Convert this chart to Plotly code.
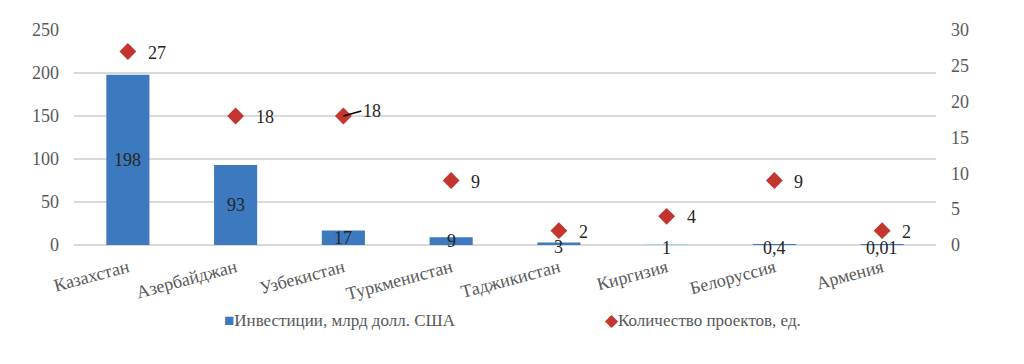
import plotly.graph_objects as go

countries = ["Казахстан", "Азербайджан", "Узбекистан", "Туркменистан",
             "Таджикистан", "Киргизия", "Белоруссия", "Армения"]
investments = [198, 93, 17, 9, 3, 1, 0.4, 0.01]
projects = [27, 18, 18, 9, 2, 4, 9, 2]
bar_colors = ["#3C79BE"] * 5 + ["#A9D3EA", "#3C79BE", "#3C79BE"]

inv_name = "Инвестиции, млрд долл. США"
proj_name = "Количество проектов, ед."

FONT = "Times New Roman"
GRAY = "#595959"
TXT = "#262626"

fig = go.Figure()
fig.add_trace(go.Bar(x=countries, y=investments, name=inv_name,
                     marker=dict(color=bar_colors, line=dict(width=0)),
                     width=0.4, yaxis="y", showlegend=False))
fig.add_trace(go.Scatter(x=countries, y=projects, name=proj_name, mode="markers",
                         marker=dict(symbol="diamond", size=13, color="#C3352F"),
                         yaxis="y2", showlegend=False))

ann = []
for c, v in zip(countries, investments):
    ann.append(dict(x=c, y=v / 2, xref="x", yref="y", text=str(v).replace(".", ","),
                    showarrow=False, font=dict(family=FONT, size=18, color=TXT),
                    yshift=-3 if v < 5 else 0))
for i, (c, p) in enumerate(zip(countries, projects)):
    if c == "Узбекистан":
        ann.append(dict(x=c, y=p, xref="x", yref="y2", text=str(p), showarrow=True,
                        ax=18, ay=-5, xanchor="left", arrowhead=0, arrowwidth=1.5,
                        arrowcolor="#000000", standoff=0,
                        font=dict(family=FONT, size=18, color=TXT)))
    else:
        ann.append(dict(x=c, y=p, xref="x", yref="y2", text=str(p), showarrow=False,
                        xanchor="left", xshift=18, yshift=-1,
                        font=dict(family=FONT, size=18, color=TXT)))

ann.append(dict(x=0.172, y=-0.405, xref="paper", yref="paper", xanchor="left",
                showarrow=False,
                text="<span style='color:#3C79BE'>■</span>" + inv_name,
                font=dict(family=FONT, size=17, color=GRAY)))
ann.append(dict(x=0.614, y=-0.405, xref="paper", yref="paper", xanchor="left",
                showarrow=False,
                text="<span style='color:#C3352F'>◆</span>" + proj_name,
                font=dict(family=FONT, size=17, color=GRAY)))

fig.update_layout(
    width=1016, height=356,
    margin=dict(l=66, r=88, t=22, b=119, autoexpand=False),
    paper_bgcolor="white", plot_bgcolor="white",
    font=dict(family=FONT, color=GRAY, size=16),
    xaxis=dict(tickangle=-15, showgrid=False, showline=False, ticks="",
               automargin=False, ticklabelstandoff=8,
               tickfont=dict(family=FONT, size=18, color=GRAY)),
    yaxis=dict(range=[0, 250], dtick=50, showgrid=True, gridcolor="#D9D9D9",
               gridwidth=1.5, zeroline=True, zerolinecolor="#D9D9D9", zerolinewidth=1.5,
               ticks="", ticklabelstandoff=14, automargin=False,
               tickfont=dict(family=FONT, size=18, color=GRAY)),
    yaxis2=dict(range=[0, 30], dtick=5, overlaying="y", side="right", showgrid=False,
                zeroline=False, ticks="", ticklabelstandoff=14, automargin=False,
                tickfont=dict(family=FONT, size=18, color=GRAY)),
    annotations=ann,
    showlegend=False,
)

fig.write_html("out.html")
